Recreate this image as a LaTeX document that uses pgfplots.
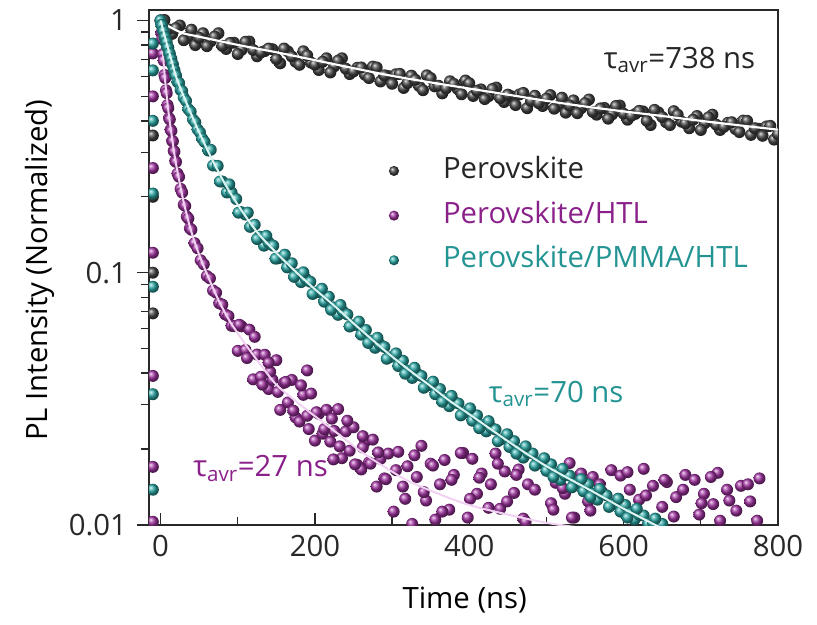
\documentclass[border=0pt]{standalone}
\usepackage{pgfplots}
\pgfplotsset{compat=1.18}
\usepackage{fontspec}
\setmainfont{Open Sans}
\definecolor{htl}{RGB}{138,32,138}
\definecolor{pmma}{RGB}{35,148,146}
\definecolor{htlball}{RGB}{162,52,162}
\definecolor{pmmaball}{RGB}{42,168,165}
\definecolor{axc}{RGB}{40,40,40}
\definecolor{htlfit}{RGB}{242,210,242}
\definecolor{pmmafit}{RGB}{220,244,242}
\pgfdeclareplotmark{sphere}{\pgfpathcircle{\pgfpointorigin}{4.5pt}\pgfshadepath{ball}{0}\pgfusepath{}}
\pgfdeclareplotmark{spheresmall}{\pgfpathcircle{\pgfpointorigin}{3.8pt}\pgfshadepath{ball}{0}\pgfusepath{}}
\begin{document}
\fontsize{22}{26}\selectfont
\begin{tikzpicture}
\begin{axis}[
  scale only axis,
  width=471.75pt, height=386.25pt,
  xmin=-15, xmax=800,
  ymode=log, ymin=0.01, ymax=1.1,
  clip marker paths=true,
  xtick={0,200,400,600,800},
  xticklabels={0,200,400,600,800},
  minor xtick={100,300,500,700},
  ytick={0.01,0.1,1},
  yticklabels={0.01,0.1,1},
  xtick pos=bottom, ytick pos=left,
  xtick align=inside, ytick align=outside,
  major tick length=9pt, minor tick length=6pt,
  every tick/.style={line width=1pt, axc},
  axis line style={line width=1.4pt, axc},
  tick label style={text=axc},
  label style={text=axc},
  xlabel={Time (ns)},
  ylabel={PL Intensity (Normalized)},
  every axis x label/.style={at={(rel axis cs:0.502,-0.1456)}, anchor=center},
  every axis y label/.style={at={(rel axis cs:-0.1733,0.495)}, rotate=90, anchor=center},
  legend cell align=left,
  legend style={at={(rel axis cs:0.381,0.7184)}, anchor=north west, draw=none, fill=none,
    inner sep=0pt, row sep=10pt,
    nodes={inner sep=1pt, text height=16.5pt, text depth=5pt},
    /tikz/every odd column/.append style={column sep=32pt}},
  legend image post style={mark=spheresmall},
]
% ---------- Perovskite ----------
\addplot[only marks, mark=sphere, ball color=black!72] coordinates {
(-10,0.35) (-10,0.20) (-10,0.10) (-10,0.069) (0,1.0)
(5,1.004) (15,0.885) (25,0.955) (35,0.856) (45,0.799) (55,0.890) (65,0.827) (75,0.890)
(85,0.771) (95,0.816) (105,0.765) (115,0.825) (125,0.721) (135,0.756) (145,0.769) (155,0.676)
(165,0.754) (175,0.686) (185,0.755) (195,0.680) (205,0.636) (215,0.708) (225,0.658) (235,0.708)
(245,0.613) (255,0.649) (265,0.609) (275,0.656) (285,0.573) (295,0.602) (305,0.612) (315,0.540)
(325,0.604) (335,0.550) (345,0.606) (355,0.548) (365,0.514) (375,0.574) (385,0.535) (395,0.578)
(405,0.502) (415,0.533) (425,0.501) (435,0.542) (445,0.475) (455,0.500) (465,0.509) (475,0.449)
(485,0.503) (495,0.458) (505,0.506) (515,0.458) (525,0.431) (535,0.482) (545,0.449) (555,0.486)
(565,0.423) (575,0.450) (585,0.424) (595,0.460) (605,0.404) (615,0.426) (625,0.436) (635,0.385)
(645,0.432) (655,0.395) (665,0.437) (675,0.397) (685,0.374) (695,0.418) (705,0.391) (715,0.423)
(725,0.368) (735,0.393) (745,0.371) (755,0.401) (765,0.352) (775,0.372) (785,0.380) (795,0.337)
(10,0.922) (20,0.933) (30,0.835) (40,0.919) (50,0.853) (60,0.791) (70,0.863) (80,0.793)
(90,0.814) (100,0.736) (110,0.823) (120,0.764) (130,0.747) (140,0.774) (150,0.703) (160,0.774)
(170,0.720) (180,0.667) (190,0.727) (200,0.668) (210,0.686) (220,0.622) (230,0.693) (240,0.644)
(250,0.628) (260,0.651) (270,0.591) (280,0.651) (290,0.606) (300,0.561) (310,0.614) (320,0.565)
(330,0.582) (340,0.529) (350,0.591) (360,0.551) (370,0.538) (380,0.560) (390,0.510) (400,0.564)
(410,0.526) (420,0.488) (430,0.535) (440,0.492) (450,0.508) (460,0.462) (470,0.516) (480,0.480)
(490,0.470) (500,0.490) (510,0.447) (520,0.494) (530,0.460) (540,0.429) (550,0.470) (560,0.434)
(570,0.448) (580,0.408) (590,0.458) (600,0.427) (610,0.419) (620,0.438) (630,0.400) (640,0.442)
(650,0.414) (660,0.385) (670,0.423) (680,0.391) (690,0.404) (700,0.368) (710,0.413) (720,0.386)
(730,0.379) (740,0.395) (750,0.361) (760,0.400) (770,0.374) (780,0.349) (790,0.382) (800,0.354)
};
\addlegendentry{\textcolor{black!85}{Perovskite}}
\addplot[forget plot, white, line width=1.6pt, smooth] coordinates {
(0,1.0) (10,0.95) (20,0.915) (30,0.888) (50,0.862) (100,0.80) (150,0.748) (200,0.696)
(250,0.647) (300,0.603) (350,0.568) (400,0.537) (450,0.508) (500,0.480) (550,0.456)
(600,0.436) (650,0.418) (700,0.400) (750,0.384) (800,0.369)
};
% ---------- Perovskite/HTL ----------
\addplot[only marks, mark=sphere, ball color=htlball] coordinates {
(-10,0.74) (-10,0.50) (-10,0.26) (-10,0.12) (-10,0.039) (-10,0.017) (-10,0.0103)
(0,1.0) (1,0.892) (2,0.843) (3,0.735) (4,0.694) (5,0.608) (6,0.591) (7,0.529) (8,0.515)
(9,0.462) (10,0.449) (11,0.410) (12,0.405) (13,0.369) (14,0.365) (15,0.333) (16,0.332)
(17,0.304) (18,0.302) (19,0.277) (20,0.275) (22,0.247) (24,0.240) (26,0.215) (28,0.208)
(30,0.186) (32,0.184) (34,0.167) (36,0.164) (38,0.150) (40,0.148) (44,0.131) (48,0.125)
(52,0.112) (56,0.108) (60,0.097) (64,0.095) (68,0.085) (72,0.0834) (76,0.0757) (80,0.0747)
(84,0.0683) (88,0.0673) (92,0.0616) (96,0.0614)
(100,0.0490) (105,0.0613) (110,0.0494) (115,0.0595) (120,0.0378) (125,0.0474) (130,0.0387)
(135,0.0473) (140,0.0346) (145,0.0376) (150,0.0450) (155,0.0286) (160,0.0366) (165,0.0306)
(170,0.0376) (175,0.0267) (180,0.0257) (185,0.0328) (190,0.0271) (195,0.0332) (200,0.0216)
(205,0.0276) (210,0.0230) (215,0.0286) (220,0.0214) (225,0.0236) (230,0.0288) (235,0.0184)
(240,0.0235) (245,0.0197) (250,0.0244) (255,0.0173) (260,0.0166) (265,0.0214) (270,0.0177)
(275,0.0218) (280,0.0142) (285,0.0183) (290,0.0153) (295,0.0192)
(102,0.0622) (112,0.0459) (122,0.0557) (132,0.0360) (142,0.0405) (152,0.0337) (162,0.0369)
(172,0.0284) (182,0.0358) (192,0.0240) (202,0.0280) (212,0.0240) (222,0.0264) (232,0.0205)
(242,0.0259) (252,0.0174) (262,0.0203) (272,0.0175) (282,0.0194) (292,0.0152)
(190,0.041) (224,0.0182) (262,0.0225) (140,0.044)
(302,0.0113) (308,0.0195) (314,0.0142) (320,0.0171) (326,0.0101) (332,0.0155) (338,0.0206)
(344,0.0125) (350,0.0175) (356,0.0105) (362,0.0145) (368,0.0181) (374,0.0115) (380,0.0158)
(386,0.0093) (392,0.0193) (398,0.0107) (404,0.0183) (410,0.0133) (416,0.0160) (422,0.0095)
(428,0.0145) (434,0.0192) (440,0.0116) (446,0.0163) (452,0.0097) (458,0.0134) (464,0.0166)
(470,0.0106) (476,0.0145) (482,0.0085) (488,0.0176) (494,0.0098) (500,0.0168) (506,0.0122)
(512,0.0147) (518,0.0086) (524,0.0133) (530,0.0176) (536,0.0107) (542,0.0150) (548,0.0090)
(554,0.0124) (560,0.0155) (566,0.0098) (572,0.0135) (578,0.0079) (584,0.0165) (590,0.0091)
(596,0.0157) (602,0.0114) (608,0.0138) (614,0.0082) (620,0.0126) (626,0.0167) (632,0.0101)
(638,0.0143) (644,0.0085) (650,0.0118) (656,0.0148) (662,0.0094) (668,0.0129) (674,0.0076)
(680,0.0158) (686,0.0088) (692,0.0151) (698,0.0110) (704,0.0133) (710,0.0079) (716,0.0121)
(722,0.0161) (728,0.0098) (734,0.0138) (740,0.0082) (746,0.0114) (752,0.0143) (758,0.0091)
(764,0.0124) (770,0.0073) (776,0.0153)
(305,0.0165) (317,0.0127) (329,0.0189) (341,0.0135) (353,0.0172) (365,0.0113) (377,0.0151)
(389,0.0193) (401,0.0127) (413,0.0154) (425,0.0117) (437,0.0175) (449,0.0124) (461,0.0158)
(473,0.0103) (485,0.0138) (497,0.0174) (509,0.0115) (521,0.0140) (533,0.0107) (545,0.0160)
(557,0.0114) (569,0.0145) (581,0.0095) (593,0.0127) (605,0.0162) (617,0.0108) (629,0.0131)
(641,0.0100) (653,0.0151) (665,0.0108) (677,0.0138) (689,0.0090) (701,0.0122) (713,0.0155)
(725,0.0104) (737,0.0125) (749,0.0097) (761,0.0145) (773,0.0104)
};
\addlegendentry{\textcolor{htl}{Perovskite/HTL}}
\addplot[forget plot, htlfit, line width=1.5pt, smooth] coordinates {
(0,1.0) (5,0.62) (10,0.44) (15,0.34) (20,0.27) (30,0.19) (40,0.145) (50,0.118) (60,0.099)
(75,0.078) (90,0.064) (110,0.052) (130,0.043) (150,0.036) (175,0.031) (200,0.027)
(230,0.023) (260,0.0195) (290,0.0170) (320,0.0150) (360,0.0133) (400,0.0120) (450,0.0110)
(500,0.0102) (550,0.0097) (600,0.0093)
};
% ---------- Perovskite/PMMA/HTL ----------
\addplot[only marks, mark=sphere, ball color=pmmaball] coordinates {
(-10,0.81) (-10,0.634) (-10,0.40) (-10,0.206) (-10,0.088) (-10,0.033) (-10,0.0138)
(0,1.0) (1,0.96) (2,0.955) (3,0.91) (4,0.905) (5,0.86) (6,0.86) (7,0.815) (8,0.82) (9,0.78)
(10,0.78) (11,0.74) (12,0.74) (13,0.705) (14,0.705) (15,0.67) (16,0.67) (17,0.64) (18,0.635)
(19,0.61) (20,0.605) (22,0.57) (24,0.565) (26,0.53) (28,0.525) (30,0.495) (33,0.48) (36,0.445)
(39,0.435) (42,0.405) (45,0.395) (48,0.37) (51,0.36) (54,0.34) (57,0.33)
(62,0.305) (68,0.266) (74,0.265) (80,0.230) (86,0.208) (92,0.208)
(98,0.196) (104,0.174) (110,0.170) (116,0.152) (122,0.155) (128,0.139) (134,0.128) (140,0.132)
(146,0.128) (152,0.114) (158,0.115) (164,0.105) (170,0.109) (176,0.0984) (182,0.0918) (188,0.0949)
(194,0.0921) (200,0.0834) (206,0.0838) (212,0.0768) (218,0.0803) (224,0.0729) (230,0.0681) (236,0.0704)
(242,0.0683) (248,0.0619) (254,0.0621) (260,0.0568) (266,0.0593) (272,0.0538) (278,0.0504) (284,0.0521)
(290,0.0508) (296,0.0462) (302,0.0465) (308,0.0427) (314,0.0448) (320,0.0409) (326,0.0383) (332,0.0399)
(338,0.0390) (344,0.0356) (350,0.0359) (356,0.0330) (362,0.0346) (368,0.0316) (374,0.0296) (380,0.0309)
(386,0.0303) (392,0.0277) (398,0.0281) (404,0.0259) (410,0.0272) (416,0.0249) (422,0.0235) (428,0.0244)
(434,0.0239) (440,0.0218) (446,0.0221) (452,0.0204) (458,0.0215) (464,0.0197) (470,0.0185) (476,0.0194)
(482,0.0192) (488,0.0176) (494,0.0178) (500,0.0164) (506,0.0174) (512,0.0160) (518,0.0151) (524,0.0158)
(530,0.0157) (536,0.0145) (542,0.0147) (548,0.0136) (554,0.0145) (560,0.0133) (566,0.0126) (572,0.0133)
(578,0.0131) (584,0.0120) (590,0.0122) (596,0.0113) (602,0.0120) (608,0.0111) (614,0.0105) (620,0.0110)
(626,0.0109) (632,0.0101) (638,0.0102) (644,0.0095) (650,0.0101) (656,0.0093) (662,0.0088) (668,0.0094)
(674,0.0093) (680,0.0085) (686,0.0088)
(65,0.307) (77,0.230) (89,0.224) (101,0.173) (113,0.173) (125,0.136) (137,0.140) (149,0.1137)
(161,0.1179) (173,0.0963) (185,0.1004) (197,0.0824) (209,0.0864) (221,0.0713) (233,0.0745) (245,0.0612)
(257,0.0640) (269,0.0527) (281,0.0552) (293,0.0456) (305,0.0479) (317,0.0398) (329,0.0420) (341,0.0350)
(353,0.0370) (365,0.0308) (377,0.0325) (389,0.0272) (401,0.0290) (413,0.0242) (425,0.0258) (437,0.0215)
(449,0.0229) (461,0.0192) (473,0.0205) (485,0.0172) (497,0.0184) (509,0.0155) (521,0.0167) (533,0.0141)
(545,0.0152) (557,0.0129) (569,0.0139) (581,0.0118) (593,0.0127) (605,0.0107) (617,0.0116) (629,0.0098)
(641,0.0106) (653,0.0090) (665,0.0098) (677,0.0084)
};
\addlegendentry{\textcolor{pmma}{Perovskite/PMMA/HTL}}
\addplot[forget plot, pmmafit, line width=1.5pt, smooth] coordinates {
(0,1.0) (5,0.875) (10,0.77) (15,0.68) (20,0.60) (30,0.50) (45,0.39) (60,0.31) (80,0.235)
(100,0.186) (125,0.145) (150,0.120) (175,0.101) (200,0.086) (225,0.074) (250,0.063)
(275,0.054) (300,0.0465) (325,0.0405) (350,0.0355) (375,0.031) (400,0.0275) (425,0.0243)
(450,0.0215) (475,0.0191) (500,0.0171) (525,0.0155) (550,0.0141) (575,0.0128) (600,0.0116)
(625,0.0106) (650,0.0097) (675,0.0090) (700,0.0083)
};
% ---------- annotations ----------
\node[anchor=base west, text=black!85, inner sep=0pt] at (axis cs:574,0.645) {τ\textsubscript{avr}=738 ns};
\node[anchor=base west, text=pmma, inner sep=0pt] at (axis cs:425,0.0307) {τ\textsubscript{avr}=70 ns};
\node[anchor=base west, text=htl, inner sep=0pt] at (axis cs:42,0.0155) {τ\textsubscript{avr}=27 ns};
\end{axis}
\path ([xshift=-111.75pt,yshift=-75pt]current axis.south west) rectangle ([xshift=29.25pt,yshift=7.5pt]current axis.north east);
\end{tikzpicture}
\end{document}
